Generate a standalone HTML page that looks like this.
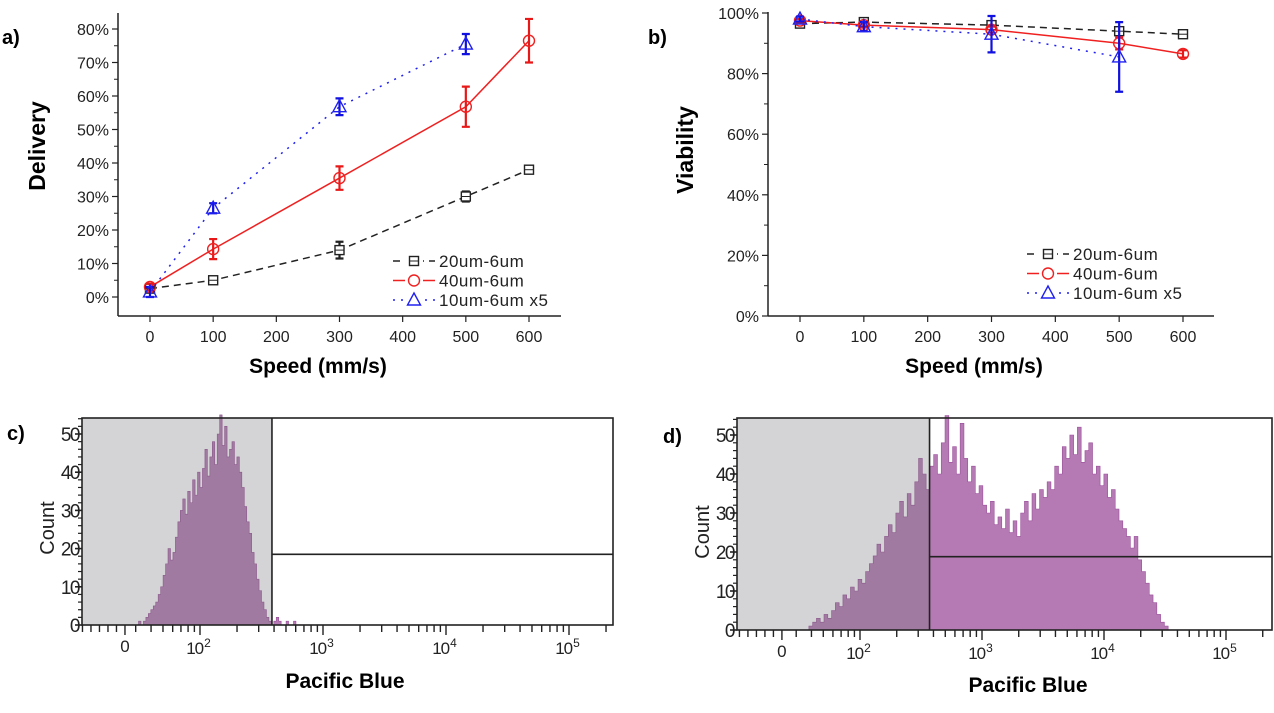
<!DOCTYPE html>
<html><head><meta charset="utf-8"><style>
html,body{margin:0;padding:0;background:#fff}
svg{display:block;font-family:"Liberation Sans",Arial,sans-serif}
</style></head><body>
<svg id="fig" width="1274" height="713" viewBox="0 0 1274 713" xmlns="http://www.w3.org/2000/svg"></svg>
<script>
// ---------- data ----------
const speeds = [0,100,300,500,600];
const delivery20 = [2.5,5,14,30,38];
const delivery20Err = [0.8,0.8,2.5,1.5,0.8];
const delivery40 = [3,14.3,35.5,56.8,76.5];
const delivery40Err = [1,3,3.5,6,6.5];
const speeds10 = [0,100,300,500];
const delivery10 = [1.5,26.5,56.8,75.5];
const delivery10Err = [1.5,1.5,2.5,3];
const viab20 = [96.5,97,96,94,93];
const viab20Err = [0.5,0.5,0.8,0.8,0.5];
const viab40 = [97.5,96,94.5,90,86.5];
const viab40Err = [0.5,0.8,1,2,1.2];
const viab10 = [98,95.5,93,85.5];
const viab10Err = [0.8,1.5,6,11.5];
const deliveryTicks = ["0%","10%","20%","30%","40%","50%","60%","70%","80%"];
const viabTicks = ["0%","20%","40%","60%","80%","100%"];
const speedTicks = [0,100,200,300,400,500,600];
const legendLabels = ["20um-6um","40um-6um","10um-6um  x5"];
// histogram c: counts per bin, bins start at log-decade 1.50, step 0.02
const histCStart = 1.50, histCStep = 0.02;
const histC = [1,0,1,2,3,4,5,6,8,10,13,16,20,17,19,23,27,30,33,29,35,32,38,34,40,36,41,46,39,44,48,42,50,55,47,52,44,46,48,42,44,40,36,31,27,24,19,16,12,9,6,4,2,1,0,1,2,1,0,0,1,0,0,1,0];
// histogram d: bins start at 1.55, step 0.031
const histDStart = 1.55, histDStep = 0.031;
const histD = [0,1,2,3,2,4,3,5,7,6,9,8,11,10,13,12,15,17,19,22,20,24,27,25,30,33,29,35,32,38,44,40,36,42,45,40,48,55,43,47,40,53,44,38,42,35,37,32,30,33,27,29,26,31,25,28,24,30,33,28,35,31,36,34,38,36,42,40,47,44,50,45,52,43,46,48,40,42,37,40,34,36,31,28,26,24,21,24,18,15,12,9,7,4,2,1,0];
const countTicks = [0,10,20,30,40,50];
const decadeTicks = [2,3,4,5];
const gateC = 2.585, gateD = 2.57, gateLevelC = 18.5, gateLevelD = 18.8;

const NS="http://www.w3.org/2000/svg";
const svg=document.getElementById('fig');
function el(tag,attrs,parent){const e=document.createElementNS(NS,tag);for(const k in attrs)e.setAttribute(k,attrs[k]);(parent||svg).appendChild(e);return e;}
function txt(s,attrs,parent){const e=el('text',attrs,parent);e.textContent=s;return e;}

// ---------- line chart ----------
function lineChart(o){
  const g=el('g',{});
  
  
  const X=v=>o.x0+(v-0)/600*(o.x1-o.x0);
  const Y=v=>o.y0+(v-o.vmin)/(o.vmax-o.vmin)*(o.y1-o.y0);
  const ya=el('line',{x1:o.ax,y1:o.axTop,x2:o.ax,y2:o.ay,stroke:'#222','stroke-width':1.5},g);
  
  const xa=el('line',{x1:o.ax,y1:o.ay,x2:o.axRight,y2:o.ay,stroke:'#222','stroke-width':1.5},g);
  
  o.yTicks.forEach((t,i)=>{const v=o.vmin+i*o.yStep;const y=Y(v);
    el('line',{x1:o.ax-6,y1:y,x2:o.ax,y2:y,stroke:'#222','stroke-width':1.2},g);
    if(i<o.yTicks.length-1){const ym=Y(v+o.yStep/2);el('line',{x1:o.ax-4,y1:ym,x2:o.ax,y2:ym,stroke:'#222','stroke-width':1},g);}
    const t1=txt(t,{x:o.ax-9,y:y+6,'text-anchor':'end','font-size':16,fill:'#222'},g);
    });
  speedTicks.forEach(s=>{const x=X(s);el('line',{x1:x,y1:o.ay,x2:x,y2:o.ay+6,stroke:'#222','stroke-width':1.2},g);
    const t1=txt(String(s),{x:x,y:o.ay+26,'text-anchor':'middle','font-size':16,fill:'#222'},g);
    });
  const xt=txt('Speed (mm/s)',{x:o.xtX,y:o.xtY,'text-anchor':'middle','font-size':21,'font-weight':'bold',fill:'#000'},g);
  
  const yt=txt(o.ytitle,{x:0,y:0,transform:`translate(${o.ytX},${o.ytY}) rotate(-90)`,'text-anchor':'middle','font-size':23,'font-weight':'bold',fill:'#000'},g);
  
  const pl=txt(o.label,{x:o.lx,y:o.ly,'font-size':20,'font-weight':'bold',fill:'#000'},g);
  
  o.series.forEach(s=>{
    const sg=el('g',{},g);
    
    const pts=s.xs.map((v,i)=>X(v)+','+Y(s.ys[i])).join(' ');
    el('polyline',{points:pts,fill:'none',stroke:s.color,'stroke-width':1.5,'stroke-dasharray':s.dash},sg);
    s.xs.forEach((v,i)=>{const x=X(v),y=Y(s.ys[i]),e1=Y(s.ys[i]+s.err[i]),e2=Y(s.ys[i]-s.err[i]);
      const eb=el('path',{d:`M${x},${e1}V${e2}M${x-4},${e1}H${x+4}M${x-4},${e2}H${x+4}`,stroke:s.ecolor,'stroke-width':2.2,fill:'none'},sg);
      
      marker(s.m,x,y,s.color,sg);});
  });
  const lg=el('g',{},g);
  o.series.forEach((s,i)=>{const y=o.legY+i*19.5;
    const eg=el('g',{},lg);
    el('line',{x1:o.legX,y1:y,x2:o.legX+42,y2:y,stroke:s.color,'stroke-width':1.5,'stroke-dasharray':s.dash},eg);
    el('rect',{x:o.legX+12,y:y-7,width:18,height:14,fill:'#fff'},eg);
    marker(s.m,o.legX+21,y,s.color,eg);
    txt(legendLabels[i],{x:o.legX+46,y:y+6,'font-size':17,fill:'#222','letter-spacing':'0.5'},eg);});
}
function marker(m,x,y,c,p){
  let e;
  if(m==='sq'){e=el('rect',{x:x-4.5,y:y-4.5,width:9,height:9,fill:'#fff',stroke:c,'stroke-width':1.4},p);el('line',{x1:x-4,y1:y,x2:x+4,y2:y,stroke:c,'stroke-width':1},p);}
  else if(m==='ci'){e=el('circle',{cx:x,cy:y,r:5.5,fill:'none',stroke:c,'stroke-width':1.4},p);}
  else{e=el('path',{d:`M${x},${y-7}L${x+6.5},${y+5}L${x-6.5},${y+5}Z`,fill:'none',stroke:c,'stroke-width':1.4},p);}
  
}
const blk='#222',red='#f02020',blu='#2020f0';
lineChart({name:'delivery-chart',label:'a)',lx:2,ly:44,x0:150,x1:529,y0:297,y1:29,vmin:0,vmax:80,yStep:10,yTicks:deliveryTicks,
  ax:118,ay:316,axTop:13,axRight:561,ytitle:'Delivery',ytX:45,ytY:146,xtX:318,xtY:373,legX:393,legY:261,
  series:[{key:'20um',xs:speeds,ys:delivery20,err:delivery20Err,color:blk,ecolor:blk,dash:'7,5',m:'sq'},
          {key:'40um',xs:speeds,ys:delivery40,err:delivery40Err,color:red,ecolor:'#e81818',dash:'none',m:'ci'},
          {key:'10um',xs:speeds10,ys:delivery10,err:delivery10Err,color:blu,ecolor:'#1010e0',dash:'2,6',m:'tr'}]});
lineChart({name:'viability-chart',label:'b)',lx:648,ly:44,x0:800,x1:1183,y0:316,y1:13,vmin:0,vmax:100,yStep:20,yTicks:viabTicks,
  ax:768,ay:316,axTop:12,axRight:1214,ytitle:'Viability',ytX:693,ytY:150,xtX:974,xtY:373,legX:1027,legY:254,
  series:[{key:'20um',xs:speeds,ys:viab20,err:viab20Err,color:blk,ecolor:blk,dash:'7,5',m:'sq'},
          {key:'40um',xs:speeds,ys:viab40,err:viab40Err,color:red,ecolor:'#e81818',dash:'none',m:'ci'},
          {key:'10um',xs:speeds10,ys:viab10,err:viab10Err,color:blu,ecolor:'#1010e0',dash:'2,6',m:'tr'}]});

// ---------- histograms ----------
function histogram(o){
  const g=el('g',{});
  const X=d=>o.p2+(d-2)*o.dec;
  const Y=c=>o.by-(c/10)*o.per10;
  const gx=X(o.gate);
  const bg=el('rect',{x:o.bx0,y:o.by0,width:gx-o.bx0,height:o.by-o.by0,fill:'#d4d4d6'},g);
  
  let d=`M${X(o.start)},${o.by}`;
  o.counts.forEach((c,i)=>{const x1=X(o.start+i*o.step),x2=X(o.start+(i+1)*o.step),y=Y(c);d+=`L${x1},${y}L${x2},${y}`;});
  d+=`L${X(o.start+o.counts.length*o.step)},${o.by}Z`;
  const cl=el('clipPath',{id:o.name+'-l'},g);el('rect',{x:0,y:0,width:gx,height:713},cl);
  const cr=el('clipPath',{id:o.name+'-r'},g);el('rect',{x:gx,y:0,width:1274,height:713},cr);
  const h1=el('path',{d:d,fill:'#a07aa0',stroke:'#8c5a8c','stroke-width':0.6,'clip-path':`url(#${o.name}-l)`},g);
  
  const h2=el('path',{d:d,fill:'#b57ab4',stroke:'#9a4f9a','stroke-width':0.6,'clip-path':`url(#${o.name}-r)`},g);
  
  el('rect',{x:o.bx0,y:o.by0,width:o.bx1-o.bx0,height:o.by-o.by0,fill:'none',stroke:'#222','stroke-width':1.6},g);
  el('line',{x1:gx,y1:o.by0,x2:gx,y2:o.by,stroke:'#222','stroke-width':1.6},g);
  const gl=el('line',{x1:gx,y1:Y(o.level),x2:o.bx1,y2:Y(o.level),stroke:'#222','stroke-width':1.6},g);
  
  for(let c=0;c<=54;c+=2){const y=Y(c);const big=c%10===0;el('line',{x1:o.bx0-(big?7:4),y1:y,x2:o.bx0,y2:y,stroke:'#222','stroke-width':big?1.6:1.2},g);}
  countTicks.forEach(c=>{const t=txt(String(c),{x:o.bx0-3,y:Y(c)+7,'text-anchor':'end','font-size':19,fill:'#222','letter-spacing':'-1.5'},g);
    });
  const yt=txt('Count',{x:0,y:0,transform:`translate(${o.bx0-28},${o.ctY}) rotate(-90)`,'text-anchor':'middle','font-size':20,fill:'#222'},g);
  
  const zx=X(o.zero);
  for(let x=zx;x>o.bx0;x-=8.5)el('line',{x1:x,y1:o.by,x2:x,y2:o.by+(Math.abs(x-zx)<1?10:7),stroke:'#222','stroke-width':1.4},g);
  for(let k=3;k<10;k++){const x=X(1+Math.log10(k));if(x>zx+6)el('line',{x1:x,y1:o.by,x2:x,y2:o.by+7,stroke:'#222','stroke-width':1.4},g);}
  for(let dd=2;dd<=5;dd++){for(let k=1;k<10;k++){const x=X(dd+Math.log10(k));if(x<o.bx1)el('line',{x1:x,y1:o.by,x2:x,y2:o.by+(k===1?10:7),stroke:'#222','stroke-width':1.4},g);}}
  const z=txt('0',{x:zx,y:o.by+27,'text-anchor':'middle','font-size':17,fill:'#222'},g);
  
  decadeTicks.forEach(dd=>{const t=txt('10',{x:X(dd)-2,y:o.by+29,'text-anchor':'middle','font-size':17,fill:'#222','letter-spacing':'-1'},g);
    
    const s=el('tspan',{dx:'1',dy:'-7','font-size':12},t);s.textContent=String(dd);});
  const xt=txt('Pacific Blue',{x:o.ptX,y:o.ptY,'text-anchor':'middle','font-size':21,'font-weight':'bold',fill:'#000'},g);
  
  const pl=txt(o.label,{x:o.lx,y:o.ly,'font-size':20,'font-weight':'bold',fill:'#000'},g);
  
}
histogram({name:'histogram-c',label:'c)',lx:7,ly:440,bx0:82,bx1:613,by0:418,by:625,p2:200,dec:123,per10:38.2,zero:1.39,
  gate:gateC,level:gateLevelC,start:histCStart,step:histCStep,counts:histC,ctY:528,ptX:345,ptY:688});
histogram({name:'histogram-d',label:'d)',lx:663,ly:443,bx0:737,bx1:1272,by0:418,by:630,p2:860,dec:122,per10:39,zero:1.36,
  gate:gateD,level:gateLevelD,start:histDStart,step:histDStep,counts:histD,ctY:532,ptX:1028,ptY:692});
</script>
</body></html>
